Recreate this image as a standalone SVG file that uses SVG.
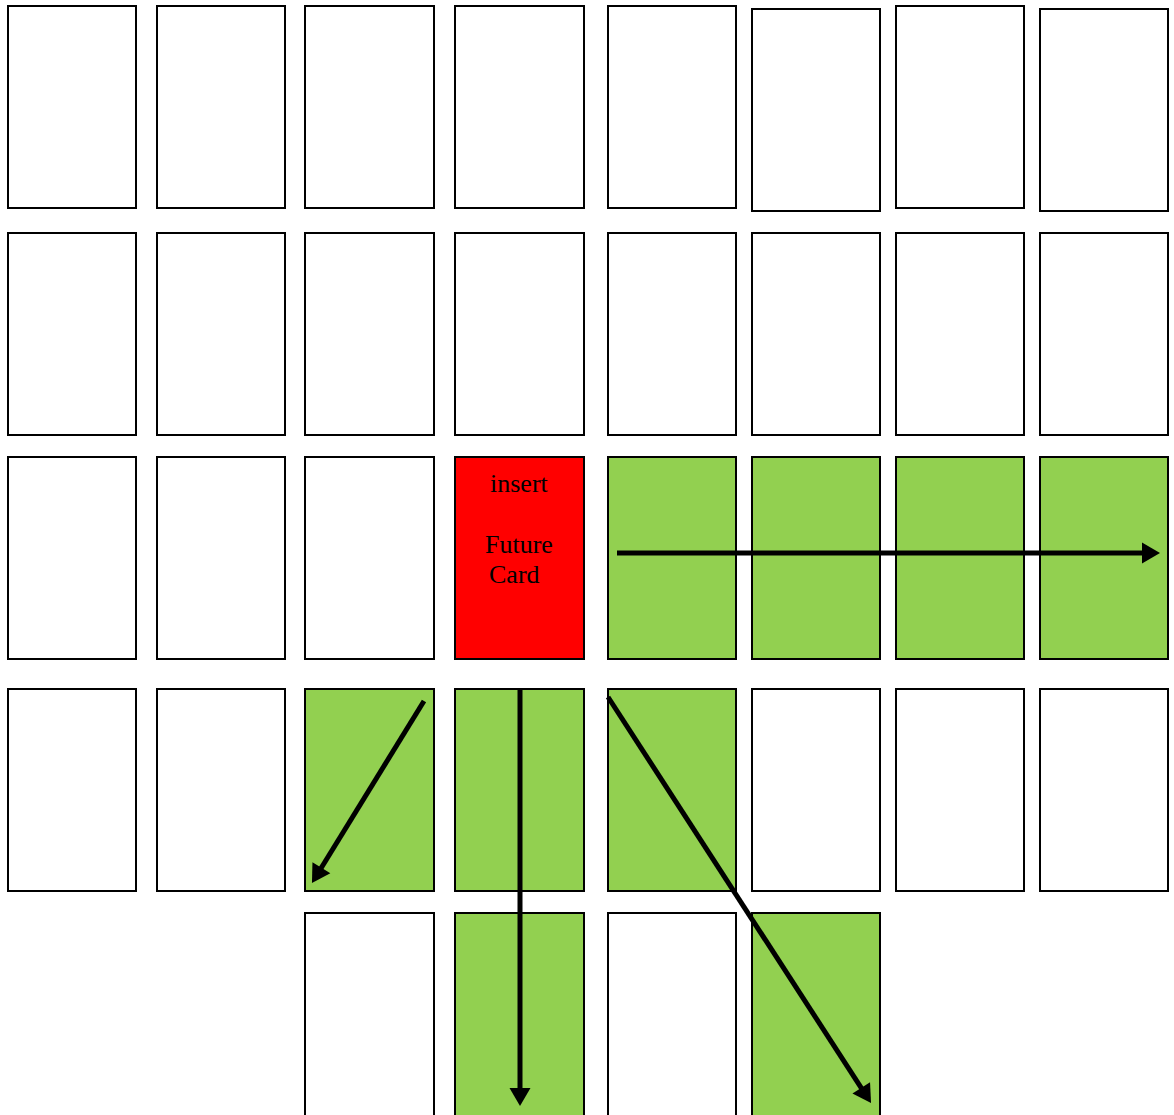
<svg xmlns="http://www.w3.org/2000/svg" width="1174" height="1115" viewBox="0 0 1174 1115">
<style>
.c{fill:#ffffff;stroke:#000;stroke-width:2}
.g{fill:#92D050;stroke:#000;stroke-width:2}
.r{fill:#FF0000;stroke:#000;stroke-width:2}
.a{fill:none;stroke:#000;stroke-width:5}
.t{font-family:"Liberation Serif","Times New Roman",serif;font-size:26px;fill:#000}
</style>
<defs>
<marker id="ah" markerUnits="userSpaceOnUse" markerWidth="19" markerHeight="22" refX="8" refY="10.5" orient="auto" overflow="visible">
<path d="M0,0 L18,10.5 L0,21 Z" fill="#000"/>
</marker>
</defs>
<rect width="1174" height="1115" fill="#fff"/>
<g id="row1">
<g id="r1c1"><rect class="c" x="8" y="6" width="128" height="202"/></g>
<g id="r1c2"><rect class="c" x="157" y="6" width="128" height="202"/></g>
<g id="r1c3"><rect class="c" x="305" y="6" width="129" height="202"/></g>
<g id="r1c4"><rect class="c" x="455" y="6" width="129" height="202"/></g>
<g id="r1c5"><rect class="c" x="608" y="6" width="128" height="202"/></g>
<g id="r1c6"><rect class="c" x="752" y="9" width="128" height="202"/></g>
<g id="r1c7"><rect class="c" x="896" y="6" width="128" height="202"/></g>
<g id="r1c8"><rect class="c" x="1040" y="9" width="128" height="202"/></g>
</g>
<g id="row2">
<g id="r2c1"><rect class="c" x="8" y="233" width="128" height="202"/></g>
<g id="r2c2"><rect class="c" x="157" y="233" width="128" height="202"/></g>
<g id="r2c3"><rect class="c" x="305" y="233" width="129" height="202"/></g>
<g id="r2c4"><rect class="c" x="455" y="233" width="129" height="202"/></g>
<g id="r2c5"><rect class="c" x="608" y="233" width="128" height="202"/></g>
<g id="r2c6"><rect class="c" x="752" y="233" width="128" height="202"/></g>
<g id="r2c7"><rect class="c" x="896" y="233" width="128" height="202"/></g>
<g id="r2c8"><rect class="c" x="1040" y="233" width="128" height="202"/></g>
</g>
<g id="row3">
<g id="r3c1"><rect class="c" x="8" y="457" width="128" height="202"/></g>
<g id="r3c2"><rect class="c" x="157" y="457" width="128" height="202"/></g>
<g id="r3c3"><rect class="c" x="305" y="457" width="129" height="202"/></g>
<g id="r3c4"><rect class="r" x="455" y="457" width="129" height="202"/>
<text class="t" x="490" y="492">insert</text>
<text class="t" x="485" y="553">Future</text>
<text class="t" x="489" y="583">Card</text>
</g>
<g id="r3c5"><rect class="g" x="608" y="457" width="128" height="202"/></g>
<g id="r3c6"><rect class="g" x="752" y="457" width="128" height="202"/></g>
<g id="r3c7"><rect class="g" x="896" y="457" width="128" height="202"/></g>
<g id="r3c8"><rect class="g" x="1040" y="457" width="128" height="202"/></g>
</g>
<g id="row4">
<g id="r4c1"><rect class="c" x="8" y="689" width="128" height="202"/></g>
<g id="r4c2"><rect class="c" x="157" y="689" width="128" height="202"/></g>
<g id="r4c3"><rect class="g" x="305" y="689" width="129" height="202"/></g>
<g id="r4c4"><rect class="g" x="455" y="689" width="129" height="202"/></g>
<g id="r4c5"><rect class="g" x="608" y="689" width="128" height="202"/></g>
<g id="r4c6"><rect class="c" x="752" y="689" width="128" height="202"/></g>
<g id="r4c7"><rect class="c" x="896" y="689" width="128" height="202"/></g>
<g id="r4c8"><rect class="c" x="1040" y="689" width="128" height="202"/></g>
</g>
<g id="row5">
<g id="r5c3"><rect class="c" x="305" y="913" width="129" height="204"/></g>
<g id="r5c4"><rect class="g" x="455" y="913" width="129" height="204"/></g>
<g id="r5c5"><rect class="c" x="608" y="913" width="128" height="204"/></g>
<g id="r5c6"><rect class="g" x="752" y="913" width="128" height="204"/></g>
</g>
<g id="connectors">
<line class="a" x1="617" y1="553" x2="1150" y2="553" marker-end="url(#ah)"/>
<line class="a" x1="424" y1="701" x2="317.2" y2="874.5" marker-end="url(#ah)"/>
<line class="a" x1="520" y1="689" x2="520" y2="1096" marker-end="url(#ah)"/>
<line class="a" x1="608" y1="697" x2="865.6" y2="1094.6" marker-end="url(#ah)"/>
</g>
</svg>
